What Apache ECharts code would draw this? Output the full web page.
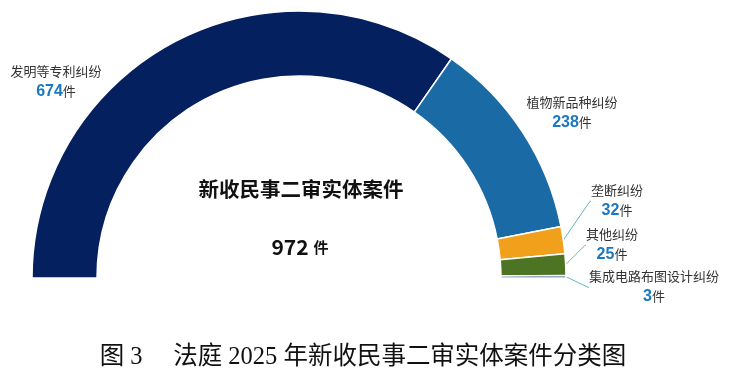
<!DOCTYPE html>
<html><head><meta charset="utf-8">
<script src="https://cdn.jsdelivr.net/npm/echarts@6/dist/echarts.min.js"></script>
<style>html,body{margin:0;padding:0;background:#fff}#c{width:730px;height:380px}</style>
</head><body><div id="c"></div>
<script>
const categories = ['发明等专利纠纷', '植物新品种纠纷', '垄断纠纷', '其他纠纷', '集成电路布图设计纠纷'];
const values = [674, 238, 32, 25, 3];
const unit = '件';
const centerTitle = '新收民事二审实体案件';
const caption = '图 3\u3000 法庭 2025 年新收民事二审实体案件分类图';

const colors = ['#04205f', '#1a6aa6', '#f0a01a', '#4d7423', '#2a4f8c'];
const labelPos = [[56, 82], [572, 113], [617, 201], [612, 245], [654, 287]];
const total = values.reduce((a, b) => a + b, 0);

const chart = echarts.init(document.getElementById('c'));
const cjk = '"Noto Sans CJK SC", sans-serif';
chart.setOption({
  animation: false,
  title: [
    { text: centerTitle, left: 296, top: 174, textAlign: 'center',
      textStyle: { fontFamily: cjk, fontSize: 20.5, fontWeight: 'bold', color: '#111' } },
    { text: '{a|' + total + '} {b|' + unit + '}', left: 295, top: 232, textAlign: 'center',
      textStyle: { rich: {
        a: { fontFamily: cjk, fontSize: 21, fontWeight: 'bold', color: '#111' },
        b: { fontFamily: cjk, fontSize: 15, fontWeight: 'bold', color: '#111' } } } },
    { text: caption, left: 358, top: 340, textAlign: 'center',
      textStyle: { fontFamily: '"Liberation Serif", "Noto Sans CJK SC", serif', fontSize: 24.5, fontWeight: 'normal', color: '#111' } }
  ],
  series: [{
    type: 'pie',
    center: [299, 278],
    radius: [202, 267],
    startAngle: 180,
    endAngle: 0,
    clockwise: true,
    silent: true,
    itemStyle: { borderColor: '#fff', borderWidth: 1.5 },
    label: {
      show: true,
      position: 'outside',
      formatter: p => '{n|' + p.name + '}\n{v|' + p.value + '}{u|' + unit + '}',
      rich: {
        n: { fontFamily: cjk, fontSize: 13, color: '#333', lineHeight: 19, align: 'center' },
        v: { fontFamily: '"Liberation Sans", Arial, sans-serif', fontSize: 16, fontWeight: 'bold', color: '#1a78c2', lineHeight: 21 },
        u: { fontFamily: cjk, fontSize: 13, color: '#333', lineHeight: 21 }
      }
    },
    labelLine: { show: true, length: 1, length2: 1, lineStyle: { color: '#5fbab4', width: 1 } },
    labelLayout: function (params) {
      const pos = labelPos[params.dataIndex];
      return { x: pos[0], y: pos[1], align: 'center', verticalAlign: 'middle', hideOverlap: false };
    },
    data: categories.map((c, i) => ({
      name: c, value: values[i],
      itemStyle: { color: colors[i] },
      labelLine: { show: i >= 2 }
    }))
  }]
});
</script></body></html>
